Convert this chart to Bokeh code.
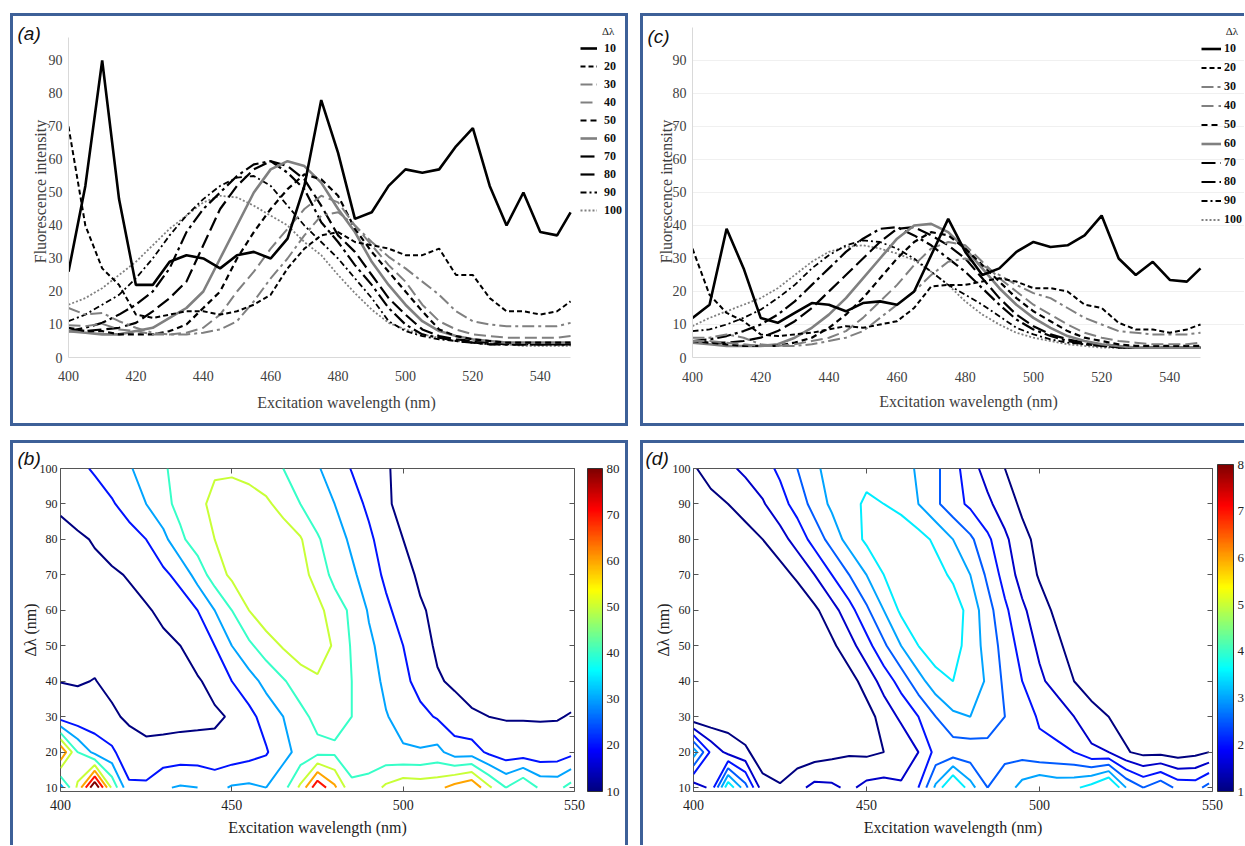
import numpy as np
from bokeh.plotting import figure
from bokeh.layouts import row, column
from bokeh.models import (Legend, LegendItem, ColorBar, LinearColorMapper,
                          FixedTicker, LinearAxis, Range1d)
from bokeh.embed import file_html
from bokeh.resources import INLINE

# ---------------- data ----------------
wavelength = [400, 405, 410, 415, 420, 425, 430, 435, 440, 445, 450, 455, 460, 465, 470,
              475, 480, 485, 490, 495, 500, 505, 510, 515, 520, 525, 530, 535, 540, 545, 549]
delta_lambda = [10, 20, 30, 40, 50, 60, 70, 80, 90, 100]
x_ticks_top = [400, 420, 440, 460, 480, 500, 520, 540]
y_ticks_top = [0, 10, 20, 30, 40, 50, 60, 70, 80, 90]
x_ticks_map = [400, 450, 500, 550]
y_ticks_map = [10, 20, 30, 40, 50, 60, 70, 80, 90, 100]
cbar_ticks = [10, 20, 30, 40, 50, 60, 70, 80]
levels_b = [10, 20, 30, 40, 50, 60, 70, 80]
levels_d = [10, 15, 20, 25, 30, 35]

# panel (a) / (b): synchronous spectra, sample 1
a_d10 = [26, 52, 90, 48, 22, 22, 29, 31, 30, 27, 31, 32, 30, 36, 52, 78, 62, 42, 44, 52,
         57, 56, 57, 64, 69.5, 52, 40, 50, 38, 37, 44]
a_d20 = [70, 40, 27, 22, 13, 12, 13, 14, 14, 13, 14, 16, 19, 27, 33, 37, 38, 35, 34, 33,
         31, 31, 33, 25, 25, 18, 14, 14, 13, 14, 17]
a_d30 = [15, 13, 13.5, 11, 9, 7.5, 7, 7, 7.5, 8.5, 11, 17, 24, 30, 37, 43, 44, 40, 35, 30.5,
         27, 23, 19, 14, 11, 10, 9.5, 9.5, 9.5, 9.5, 10.5]
a_d40 = [9.8, 9.5, 10.2, 8.5, 8, 7, 7, 7.5, 9, 13, 20, 26, 33, 39, 45, 49, 47, 40, 34, 28,
         23, 16, 11, 8.5, 7, 6.5, 6, 6, 6, 6, 6.5]
a_d50 = [9, 8, 8, 7, 7, 7, 8, 10, 15, 20, 30, 38, 45, 51, 55.5, 54, 49, 39, 32, 26,
         20, 14, 8.5, 6.5, 5.5, 5, 4.5, 4.5, 4.5, 4.5, 4.5]
a_d60 = [8, 7.5, 7, 7, 8, 9, 12, 15, 20, 30, 40, 50, 57, 59.5, 58, 53, 45, 38, 29, 22,
         16, 11, 8, 6.5, 5.5, 5, 4.5, 4.5, 4.5, 4.5, 4.5]
a_d70 = [8, 8, 8.5, 9, 10.5, 14, 18, 23, 34, 45, 52, 57, 59.5, 58, 54, 46, 37, 32, 25, 18,
         13, 8.5, 6.5, 5.5, 5, 4.5, 4, 4, 4, 4, 4]
a_d80 = [8, 9, 10.5, 13, 16, 20, 27, 38, 45, 50, 55, 58.5, 59.5, 56, 51, 41, 35, 28, 22, 15,
         10, 7, 6, 5, 4.5, 4, 4, 4, 4, 4, 4]
a_d90 = [11, 13, 16, 19, 24, 30, 37, 43, 48, 52, 54.5, 55, 52, 46, 40, 35, 30, 24, 18, 11,
         8, 6.5, 5.5, 5, 4.5, 4, 4, 4, 4, 4, 4]
a_d100 = [16, 18, 21, 25, 29, 34, 39, 43, 47, 49, 48.5, 46, 43, 40, 35, 31, 25, 19.5, 14.5, 10.5,
          8.5, 7, 6, 5, 4.5, 4, 4, 3.5, 3.5, 3.5, 3.5]

# panel (c) / (d): synchronous spectra, sample 2
c_d10 = [12, 16, 39, 27, 12, 10.5, 13.5, 16.5, 16, 14, 16.5, 17, 16, 20, 31, 42, 32, 25, 27, 32,
         35, 33.5, 34, 37, 43, 30, 25, 29, 23.5, 23, 27]
c_d20 = [33, 19, 13.5, 11, 7, 6.5, 7, 7.5, 8.5, 9.5, 9, 10, 11, 15, 21.5, 22, 22, 23, 24, 23,
         21, 21, 20, 16, 15, 10.5, 8.5, 8.5, 7.5, 8.5, 10]
c_d30 = [6, 6, 7, 6, 4, 3.5, 3.5, 4, 5, 6, 8, 12, 16, 20, 25, 29, 30, 28, 25, 22,
         19.5, 18, 15, 12, 10, 8, 7.5, 7, 7, 7, 7.5]
c_d40 = [5, 5, 4.5, 4, 3.5, 3.5, 4, 5, 6, 8, 12, 17, 22, 28, 33, 35, 34, 29, 24, 20,
         16, 13, 10, 7.5, 6, 5, 4.5, 4, 4, 4, 4.5]
c_d50 = [5, 4.5, 4, 3.5, 3.5, 3.5, 4.5, 6, 9, 13, 18, 24, 30, 35, 38, 37, 33, 28, 23, 18,
         14, 11, 8, 6, 5, 4, 3.5, 3.5, 3.5, 3.5, 3.5]
c_d60 = [4.5, 4, 3.5, 3.5, 3.5, 4, 6, 9, 13, 18, 24, 30, 36, 40, 40.5, 38, 33, 27, 21, 16,
         12, 9, 6.5, 5, 4, 3.5, 3, 3, 3, 3, 3]
c_d70 = [4.5, 4.5, 4.5, 5, 6, 8, 11, 15, 20, 25, 30, 35, 39, 39.5, 37, 34, 30, 24, 18, 13,
         9.5, 7, 5.5, 4.5, 4, 3.5, 3, 3, 3, 3, 3]
c_d80 = [5, 5.5, 6.5, 8, 10, 13, 17, 22, 27, 32, 36, 39, 39.5, 37, 34, 30, 26, 21, 16, 11.5,
         8.5, 6.5, 5, 4, 3.5, 3, 3, 3, 3, 3, 3]
c_d90 = [8, 8.5, 10, 12, 14.5, 18, 22, 27, 31, 34, 35.5, 35, 33, 30, 26, 22, 19, 16, 12.5, 9,
         7, 5.5, 4.5, 4, 3.5, 3, 3, 3, 3, 3, 3]
c_d100 = [9.5, 12, 14, 16, 18, 21, 25, 29, 32, 33.5, 34, 33, 31.5, 29.5, 26, 22, 17, 13, 10, 7.5,
          6, 5, 4, 3.5, 3, 3, 3, 3, 3, 3, 3]

series_a = [a_d10, a_d20, a_d30, a_d40, a_d50, a_d60, a_d70, a_d80, a_d90, a_d100]
series_c = [c_d10, c_d20, c_d30, c_d40, c_d50, c_d60, c_d70, c_d80, c_d90, c_d100]

# ---------------- styles ----------------
SERIF = "Liberation Serif"
BLUE = "#3d6098"
GRAY = "#808080"

line_styles = [
    dict(color="black", width=2.6, dash="solid"),
    dict(color="black", width=2.0, dash="5 3"),
    dict(color=GRAY, width=2.0, dash="12 4 3 4"),
    dict(color=GRAY, width=2.0, dash="12 5"),
    dict(color="black", width=2.2, dash="6 4"),
    dict(color=GRAY, width=2.6, dash="solid"),
    dict(color="black", width=2.2, dash="14 5"),
    dict(color="black", width=2.2, dash="14 4 3 4"),
    dict(color="black", width=1.8, dash="6 3 2 3"),
    dict(color=GRAY, width=1.8, dash="2 2"),
]


def jet(t):
    t = min(max(t, 0.0), 1.0)
    r = min(max(1.5 - abs(4 * t - 3), 0.0), 1.0)
    g = min(max(1.5 - abs(4 * t - 2), 0.0), 1.0)
    b = min(max(1.5 - abs(4 * t - 1), 0.0), 1.0)
    return "#%02x%02x%02x" % (round(r * 255), round(g * 255), round(b * 255))


JET = [jet(i / 255) for i in range(256)]


def set_panel_title(p, text, offset, valign="bottom", standoff=0):
    p.title.text = text
    p.title.align = "left"
    p.title.offset = offset
    p.title.standoff = standoff
    p.title.vertical_align = valign
    p.title.text_font = "Liberation Sans"
    p.title.text_font_size = "19px"
    p.title.text_font_style = "italic"
    p.title.text_line_height = 1.0
    p.title.text_color = "#111111"


def top_panel(series, w, h, bl, br, bt, bb, x_end, y_end, y_bound, title_pad, item_h,
              glyph_w, standoff_lab, grid, letter, title_off, title_standoff,
              ylab_standoff, x_standoff, xlab_standoff):
    p = figure(width=w, height=h, x_range=Range1d(400, x_end), y_range=Range1d(0, y_end),
               output_backend="svg", toolbar_location=None,
               min_border_left=bl, min_border_right=br, min_border_top=bt, min_border_bottom=bb,
               border_fill_color=None, background_fill_color=None, outline_line_color=None)
    rs = [None] * len(series)
    for i in reversed(range(len(series))):
        st = line_styles[i]
        rs[i] = p.line(wavelength, series[i], line_color=st["color"], line_width=st["width"],
                       line_dash=st["dash"])
    items = [LegendItem(label=str(d), renderers=[r]) for d, r in zip(delta_lambda, rs)]
    lg = Legend(items=items, location="top_right", title="\u00a0" * title_pad + "Δλ",
                title_text_font=SERIF, title_text_font_size="11px",
                title_text_font_style="normal", title_text_color="#222222", title_standoff=2,
                label_text_font=SERIF, label_text_font_size="12px",
                label_text_font_style="bold", label_text_color="#111111",
                glyph_width=glyph_w, glyph_height=item_h, label_height=item_h,
                label_standoff=standoff_lab, spacing=0, padding=2, margin=0,
                border_line_color=None, background_fill_alpha=0)
    p.add_layout(lg)

    p.xaxis.ticker = FixedTicker(ticks=x_ticks_top)
    p.yaxis.ticker = FixedTicker(ticks=y_ticks_top)
    p.xaxis.bounds = (400, 549)
    p.yaxis.bounds = (0, y_bound)
    p.xaxis.axis_label = "Excitation wavelength (nm)"
    p.yaxis.axis_label = "Fluorescence intensity"
    for ax in (p.xaxis[0], p.yaxis[0]):
        ax.axis_line_color = "#d9d9d9"
        ax.major_tick_line_color = None
        ax.major_tick_in = 0
        ax.major_tick_out = 0
        ax.minor_tick_line_color = None
        ax.minor_tick_in = 0
        ax.minor_tick_out = 0
        ax.major_label_text_font = SERIF
        ax.major_label_text_font_size = "14px"
        ax.major_label_text_color = "#404040"
        ax.axis_label_text_font = SERIF
        ax.axis_label_text_font_size = "16px"
        ax.axis_label_text_font_style = "normal"
        ax.axis_label_text_color = "#404040"
    p.xaxis.major_label_standoff = x_standoff
    p.xaxis.axis_label_standoff = xlab_standoff
    p.yaxis.major_label_standoff = 6
    p.yaxis.axis_label_standoff = ylab_standoff
    p.xgrid.visible = False
    if grid:
        p.ygrid.grid_line_color = "#f0f0f0"
        p.ygrid.bounds = (400, 549)
    else:
        p.ygrid.visible = False
    # two-line title: blank first line keeps the reserved height positive,
    # negative standoff drops the "(x)" line down beside the frame top
    set_panel_title(p, "\n(" + letter + ")", title_off, valign="bottom",
                    standoff=title_standoff)
    return p


def map_panel(series, levels, w, h, bl, br, bt, bb, cb_gap, cb_w, cb_h, letter, title_off):
    p = figure(width=w, height=h, x_range=Range1d(400, 550), y_range=Range1d(8.9, 100),
               output_backend="svg", toolbar_location=None,
               min_border_left=bl, min_border_right=br, min_border_top=bt, min_border_bottom=bb,
               border_fill_color=None, background_fill_color=None,
               outline_line_color="#555555", outline_line_width=1)
    z = np.array(series, dtype=float)
    colors = [jet((lv - 10) / 70) for lv in levels]
    p.contour(x=np.array(wavelength, dtype=float), y=np.array(delta_lambda, dtype=float),
              z=z, levels=levels, line_color=colors, line_width=2)

    p.xaxis.ticker = FixedTicker(ticks=x_ticks_map)
    p.yaxis.ticker = FixedTicker(ticks=y_ticks_map)
    p.xaxis.axis_label = "Excitation wavelength (nm)"
    p.yaxis.axis_label = "Δλ (nm)"
    for ax in (p.xaxis[0], p.yaxis[0]):
        ax.axis_line_color = None
        ax.major_tick_in = 5
        ax.major_tick_out = 0
        ax.major_tick_line_color = "#555555"
        ax.minor_tick_line_color = None
        ax.minor_tick_in = 0
        ax.minor_tick_out = 0
        ax.major_label_text_font = SERIF
        ax.major_label_text_color = "#222222"
        ax.axis_label_text_font = SERIF
        ax.axis_label_text_font_size = "16px"
        ax.axis_label_text_font_style = "normal"
        ax.axis_label_text_color = "#222222"
    p.xaxis.major_label_text_font_size = "14px"
    p.yaxis.major_label_text_font_size = "12px"
    p.xaxis.major_label_standoff = 8
    p.xaxis.axis_label_standoff = 6
    p.yaxis.major_label_standoff = 3
    p.yaxis.axis_label_standoff = -2
    p.xgrid.visible = False
    p.ygrid.visible = False

    for place, ticks in (("above", x_ticks_map), ("right", y_ticks_map)):
        ax = LinearAxis(ticker=FixedTicker(ticks=ticks), major_label_text_font_size="1px",
                        major_label_text_color=None, axis_line_color=None,
                        major_tick_in=5, major_tick_out=0, major_tick_line_color="#555555",
                        minor_tick_line_color=None, minor_tick_in=0, minor_tick_out=0,
                        major_label_standoff=0)
        p.add_layout(ax, place)

    frame_w = w - bl - br
    cb = ColorBar(color_mapper=LinearColorMapper(palette=JET, low=10, high=80),
                  ticker=FixedTicker(ticks=cbar_ticks), location=(frame_w + cb_gap, 0),
                  width=cb_w, height=cb_h, padding=0, margin=0,
                  bar_line_color="#333333", major_tick_line_color=None,
                  minor_tick_line_color=None, major_label_text_font=SERIF,
                  major_label_text_font_size="13px", major_label_text_color="#222222",
                  label_standoff=4, background_fill_alpha=0, border_line_color=None)
    p.add_layout(cb)
    set_panel_title(p, "(" + letter + ")", title_off)
    return p


# panel (a): frame x 68..624 (page), y 25..357
pa = top_panel(series_a, 618, 413, 58, 4, 12, 69, 565.0, 100.6, 97, 8, 18, 17, 7, False,
               "a", -51, -36, -3, 13, 10)
# panel (c): frame x 692..1244 (page), y 17..360
pc = top_panel(series_c, 604, 413, 52, 0, 4, 66, 561.9, 100.6, 100, 9, 19, 20, 3, True,
               "c", -45, -42, -5, 14, 8)
pb = map_panel(series_a, levels_b, 618, 405, 50, 54, 28, 54, 13, 15, 323, "b", -43)
pd = map_panel(series_c, levels_d, 604, 405, 53, 32, 25, 54, 5, 16, 327, "d", -48)

pa.margin = (13, 0, 0, 10)
pc.margin = (13, 0, 0, 12)
pb.margin = (14, 0, 0, 10)
pd.margin = (14, 0, 0, 12)

pa.styles = {"box-shadow": f"inset 0 0 0 3px {BLUE}"}
pc.styles = {"box-shadow": f"inset 3px 0 0 0 {BLUE}, inset 0 3px 0 0 {BLUE}, inset 0 -3px 0 0 {BLUE}"}
pb.styles = {"box-shadow": f"inset 3px 0 0 0 {BLUE}, inset -3px 0 0 0 {BLUE}, inset 0 3px 0 0 {BLUE}"}
pd.styles = {"box-shadow": f"inset 3px 0 0 0 {BLUE}, inset 0 3px 0 0 {BLUE}"}

layout = column(row(pa, pc), row(pb, pd))

open("out.html", "w").write(file_html(layout, INLINE))
